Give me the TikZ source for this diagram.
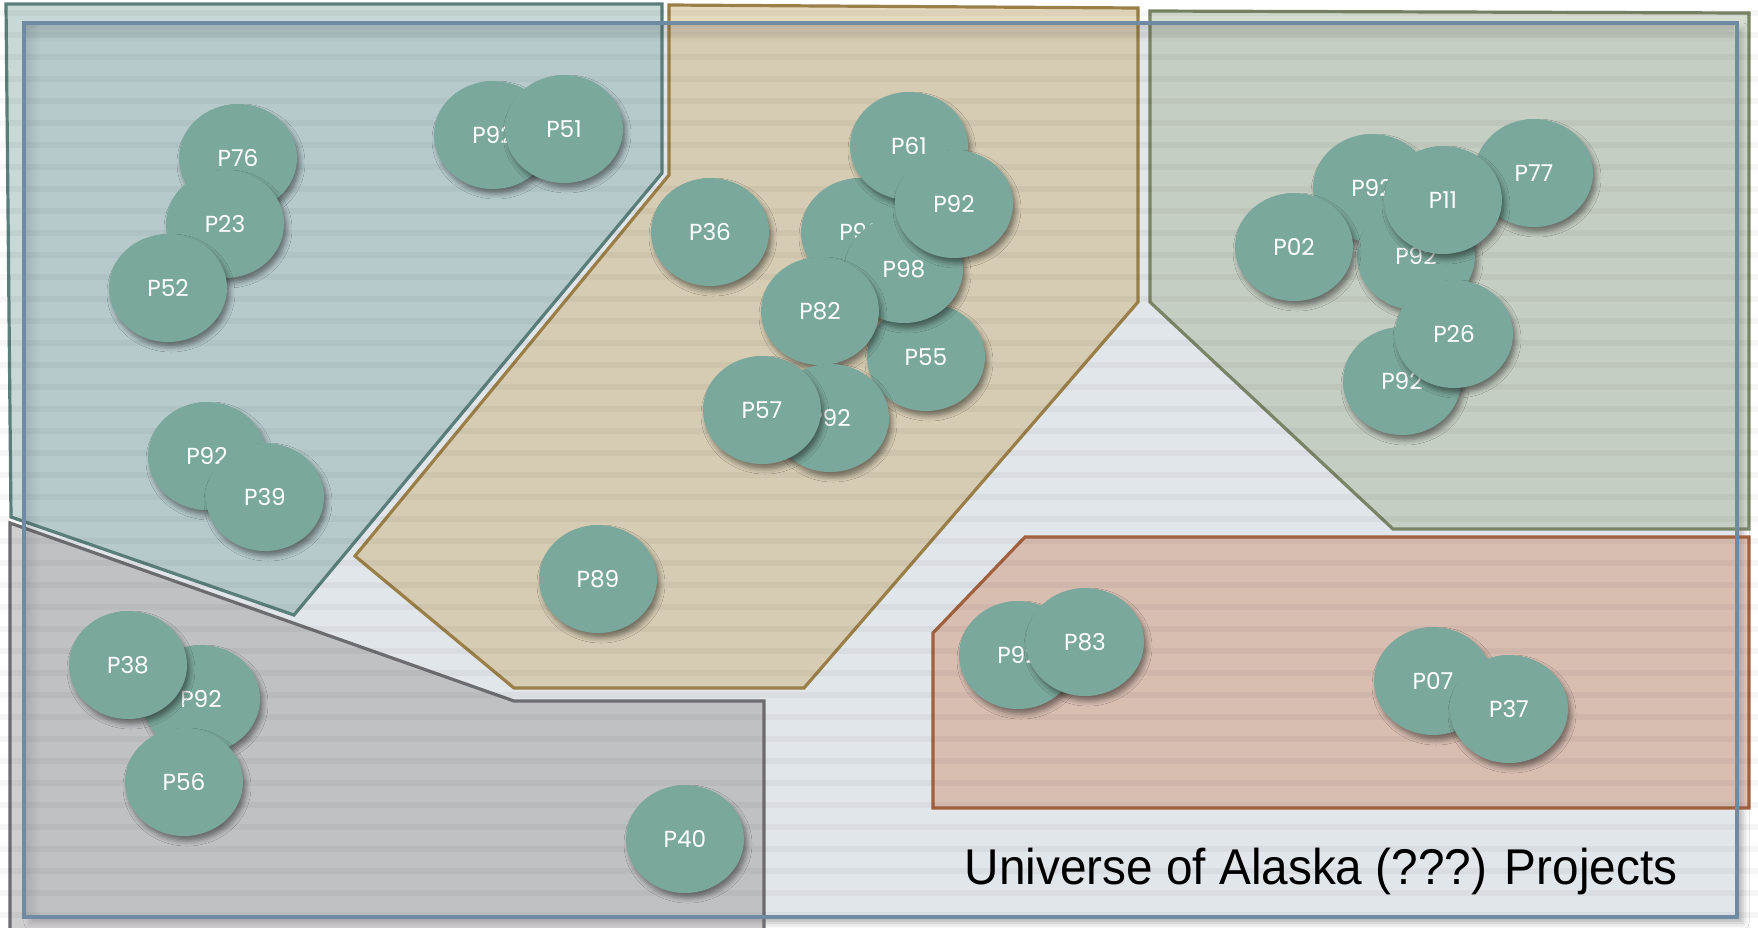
\documentclass[tikz,border=0pt]{standalone}
\usepackage{fontspec}
\setmainfont{Liberation Sans}
\newfontfamily\projfont{Poppins}
\usetikzlibrary{shapes.geometric,shadows.blur,fadings}

\definecolor{framebg}{RGB}{225,230,234}
\definecolor{frameline}{RGB}{111,139,163}
\definecolor{tealline}{RGB}{90,126,122}
\definecolor{tealfill}{RGB}{128,167,166}
\definecolor{tanline}{RGB}{154,127,72}
\definecolor{tanfill}{RGB}{200,173,109}
\definecolor{sageline}{RGB}{122,132,102}
\definecolor{sagefill}{RGB}{162,176,146}
\definecolor{greyline}{RGB}{109,108,112}
\definecolor{greyfill}{RGB}{150,146,150}
\definecolor{rustline}{RGB}{161,97,63}
\definecolor{rustfill}{RGB}{205,137,105}
\definecolor{projfill}{RGB}{123,168,156}

\tikzfading[name=fade down, top color=transparent!0, bottom color=transparent!100]
\tikzfading[name=fade across, left color=transparent!0, right color=transparent!100]

\tikzset{
  region/.style={line width=0.32mm, line join=miter, fill opacity=0.44},
  proj/.style={ellipse, fill=projfill, minimum width=11.8mm, minimum height=10.8mm,
    inner sep=0pt, text=white, font=\projfont\fontsize{6.6}{7}\selectfont,
    blur shadow={shadow xshift=0.3mm, shadow yshift=-0.5mm,
      shadow blur radius=0.5mm, shadow opacity=45}},
}

\begin{document}
\begin{tikzpicture}[x=0.1mm, y=-0.1mm]
  \useasboundingbox (0,0) rectangle (1758,928);
  \fill[white] (0,0) rectangle (1758,928);
  \fill[framebg, blur shadow={shadow xshift=0.6mm, shadow yshift=-0.6mm,
    shadow blur radius=0.6mm, shadow opacity=30}] (24,23) rectangle (1737,917);

  \filldraw[region, draw=tealline, fill=tealfill] (6,4) -- (662,4) -- (662,173) -- (294,615) -- (11,517) -- cycle;
  \filldraw[region, draw=tanline, fill=tanfill] (669,5) -- (1138,8) -- (1138,302) -- (804,688) -- (514,688) -- (355,556) -- (669,175) -- cycle;
  \filldraw[region, draw=sageline, fill=sagefill] (1150,11) -- (1749,13) -- (1749,529) -- (1393,529) -- (1150,302) -- cycle;
  \filldraw[region, draw=greyline, fill=greyfill] (10,523) -- (514,701) -- (764,701) -- (764,935) -- (10,935) -- cycle;
  \filldraw[region, draw=rustline, fill=rustfill] (1025,537) -- (1749,537) -- (1749,808) -- (933,808) -- (933,633) -- cycle;

  \foreach \k in {0,...,41}
    \fill[black, opacity=0.035] (0,{10+22*\k}) rectangle (1758,{16+22*\k});

  \fill[black, opacity=0.12, path fading=fade down] (25,24) rectangle (1736,42);
  \fill[black, opacity=0.10, path fading=fade across] (25,24) rectangle (40,916);
  \draw[frameline, line width=0.32mm] (24,23) rectangle (1737,917);

  \node[proj] (p76) at (238,158) {P76};
  \node[proj] (p23) at (225,224) {P23};
  \node[proj] (p52) at (168,288) {P52};
  \node[proj] (p92a) at (493,135) {P92};
  \node[proj] (p51) at (564,129) {P51};
  \node[proj] (p92b) at (207,456) {P92};
  \node[proj] (p39) at (265,497) {P39};

  \node[proj] (p36) at (710,232) {P36};
  \node[proj] (p92c) at (860,232) {P92};
  \node[proj] (p61) at (909,146) {P61};
  \node[proj] (p55) at (926,357) {P55};
  \node[proj] (p98) at (904,269) {P98};
  \node[proj] (p92d) at (954,204) {P92};
  \node[proj] (p82) at (820,311) {P82};
  \node[proj] (p92e) at (830,418) {P92};
  \node[proj] (p57) at (762,410) {P57};
  \node[proj] (p89) at (598,579) {P89};

  \node[proj] (p92f) at (1372,188) {P92};
  \node[proj] (p92g) at (1416,256) {P92};
  \node[proj] (p77) at (1534,173) {P77};
  \node[proj] (p02) at (1294,247) {P02};
  \node[proj] (p11) at (1443,200) {P11};
  \node[proj] (p92h) at (1402,381) {P92};
  \node[proj] (p26) at (1454,334) {P26};

  \node[proj] (p92i) at (201,699) {P92};
  \node[proj] (p38) at (128,665) {P38};
  \node[proj] (p56) at (184,782) {P56};
  \node[proj] (p40) at (685,839) {P40};

  \node[proj] (p92j) at (1018,655) {P92};
  \node[proj] (p83) at (1085,642) {P83};
  \node[proj] (p07) at (1433,681) {P07};
  \node[proj] (p37) at (1509,709) {P37};

  \node[font=\fontsize{14.3}{17}\selectfont, xscale=0.95, transform shape, anchor=base]
    (title) at (1321,884) {Universe of Alaska (???) Projects};
\end{tikzpicture}
\end{document}
